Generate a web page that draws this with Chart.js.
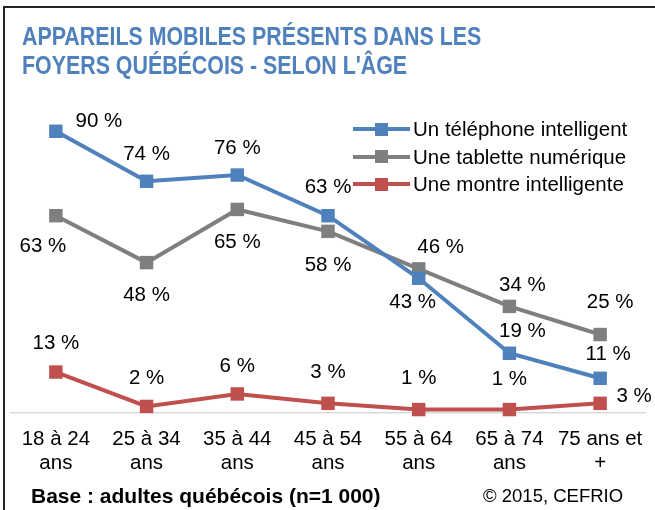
<!DOCTYPE html>
<html lang="fr">
<head>
    <meta charset="UTF-8">
    <title>Appareils mobiles présents dans les foyers québécois</title>
    <script src="https://cdn.jsdelivr.net/npm/chart.js"></script>
    <style>
        body {
            margin: 0;
            background: #fff;
            font-family: 'Liberation Sans', Arial, sans-serif;
            color: #000;
        }
        #wrap {
            position: relative;
            width: 655px;
            height: 510px;
            overflow: hidden;
        }
        #frame {
            position: absolute;
            left: 3px;
            top: 6px;
            width: 700px;
            height: 600px;
            border-left: 2px solid #222;
            border-top: 2px solid #222;
        }
        canvas {
            position: absolute;
            left: 0;
            top: 0;
        }
        .title {
            position: absolute;
            left: 22px;
            top: 22px;
            font-weight: bold;
            font-size: 25px;
            line-height: 29px;
            color: #4F81BD;
            white-space: nowrap;
            transform: scaleX(0.855);
            transform-origin: left top;
        }
        .legend {
            position: absolute;
            left: 353px;
            top: 115px;
        }
        .legend .row {
            position: relative;
            height: 27.5px;
            white-space: nowrap;
        }
        .legend .line {
            position: absolute;
            left: 0;
            top: 12px;
            width: 57px;
            height: 4px;
        }
        .legend .line::after {
            content: '';
            position: absolute;
            left: 22px;
            top: -4.5px;
            width: 13px;
            height: 13px;
            background: inherit;
        }
        .legend .text {
            position: absolute;
            left: 60px;
            top: 0;
            font-size: 20.5px;
            line-height: 28px;
        }
        .base {
            position: absolute;
            left: 31px;
            top: 485px;
            font-weight: bold;
            font-size: 21px;
            line-height: 21px;
            white-space: nowrap;
        }
        .copy {
            position: absolute;
            left: 483px;
            top: 487px;
            font-size: 18.5px;
            line-height: 18.5px;
            white-space: nowrap;
        }
    </style>
</head>
<body>
    <div id="wrap">
        <div id="frame"></div>
        <canvas id="chart" width="655" height="510"></canvas>
        <div class="title">APPAREILS MOBILES PRÉSENTS DANS LES<br>FOYERS QUÉBÉCOIS - SELON L'ÂGE</div>
        <div class="legend" id="legend"></div>
        <div class="base">Base : adultes québécois (n=1 000)</div>
        <div class="copy">© 2015, CEFRIO</div>
    </div>

    <script>
        // Données (en %)
        const ageGroups = [
            ['18 à 24', 'ans'], ['25 à 34', 'ans'], ['35 à 44', 'ans'], ['45 à 54', 'ans'],
            ['55 à 64', 'ans'], ['65 à 74', 'ans'], ['75 ans et', '+']
        ];
        const seriesNames = ['Un téléphone intelligent', 'Une tablette numérique', 'Une montre intelligente'];
        const telephone = [90, 74, 76, 63, 43, 19, 11];
        const tablette = [63, 48, 65, 58, 46, 34, 25];
        const montre = [13, 2, 6, 3, 1, 1, 3];

        const colors = ['#4F81BD', '#7F7F7F', '#C0504D'];

        // Décalages des étiquettes par rapport au point (px)
        const labelOffsets = [
            [[43, -10], [0, -27], [0, -27], [0, -28], [-6, 24], [13, -22], [8, -24]],
            [[-13, 31], [0, 33], [0, 33], [0, 34], [22, -22], [13, -21], [10, -32]],
            [[0, -29], [0, -28], [0, -28], [0, -31], [0, -31], [0, -30], [34, -7]]
        ];

        // Légende HTML
        const legendEl = document.getElementById('legend');
        seriesNames.forEach((name, i) => {
            legendEl.innerHTML += `<div class="row"><div class="line" style="background:${colors[i]}"></div><div class="text">${name}</div></div>`;
        });

        // Étiquettes de valeurs
        const valueLabels = {
            id: 'valueLabels',
            afterDatasetsDraw(chart) {
                const ctx = chart.ctx;
                ctx.save();
                ctx.font = "20.5px 'Liberation Sans', Arial, sans-serif";
                ctx.fillStyle = '#000';
                ctx.textAlign = 'center';
                ctx.textBaseline = 'middle';
                chart.data.datasets.forEach((ds, d) => {
                    const meta = chart.getDatasetMeta(d);
                    meta.data.forEach((pt, i) => {
                        const off = labelOffsets[d][i];
                        ctx.fillText(ds.data[i] + ' %', pt.x + off[0], pt.y + off[1]);
                    });
                });
                ctx.restore();
            }
        };

        function makeDataset(label, data, color) {
            return {
                label: label,
                data: data,
                borderColor: color,
                backgroundColor: color,
                borderWidth: 4,
                pointStyle: 'rect',
                pointRadius: 9.5,
                pointBorderWidth: 0,
                pointBackgroundColor: color,
                tension: 0,
                clip: false
            };
        }

        const ctx = document.getElementById('chart').getContext('2d');
        new Chart(ctx, {
            type: 'line',
            data: {
                labels: ageGroups,
                datasets: [
                    makeDataset(seriesNames[0], telephone, colors[0]),
                    makeDataset(seriesNames[1], tablette, colors[1]),
                    makeDataset(seriesNames[2], montre, colors[2])
                ]
            },
            options: {
                responsive: false,
                animation: false,
                devicePixelRatio: 1,
                layout: {
                    padding: { left: 10.5, right: 7.5, top: 100, bottom: 0 }
                },
                plugins: {
                    legend: { display: false },
                    tooltip: { enabled: false },
                    title: { display: false }
                },
                scales: {
                    x: {
                        offset: true,
                        grid: { display: false },
                        border: { display: true, color: '#D9D9D9', width: 1.5 },
                        ticks: {
                            color: '#000',
                            padding: 7,
                            maxRotation: 0,
                            autoSkip: false,
                            font: { family: "'Liberation Sans', Arial, sans-serif", size: 20.5, lineHeight: 1.16 }
                        },
                        afterFit(scale) {
                            scale.height = 97.3;
                        }
                    },
                    y: {
                        display: false,
                        min: 0,
                        max: 100
                    }
                }
            },
            plugins: [valueLabels]
        });
    </script>
</body>
</html>
